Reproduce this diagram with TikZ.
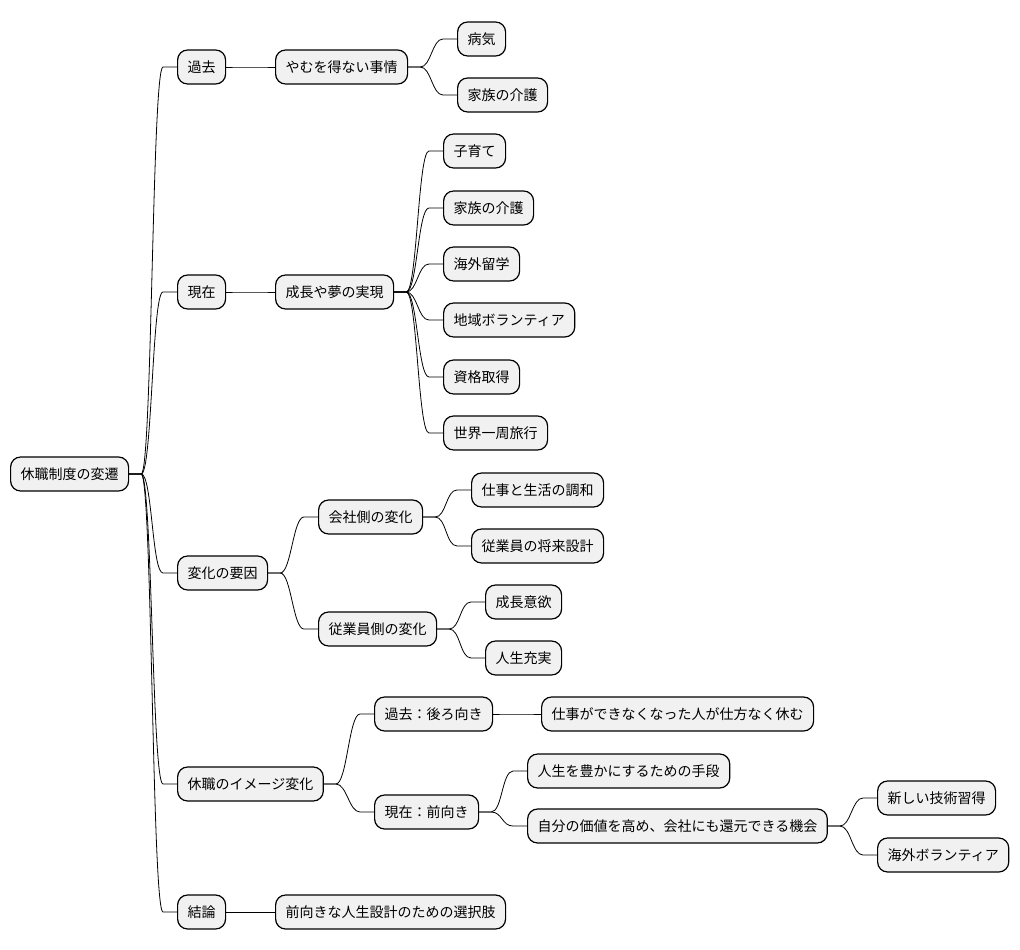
\documentclass[tikz,border=0pt]{standalone}
\usepackage{fontspec}
\setmainfont{Noto Sans CJK JP}
\usepackage{tikz}
\usetikzlibrary{calc}
\definecolor{topicfill}{HTML}{F1F1F1}
\tikzstyle{topic}=[draw=black, line width=0.9pt, fill=topicfill, rounded corners=7.5pt, anchor=west,
	minimum height=25.5pt, inner xsep=7.5pt, inner ysep=0pt, font=\fontsize{10.5pt}{12pt}\selectfont]
\tikzstyle{branch}=[line width=0.6pt]
% parent east -> child west
\newcommand{\link}[2]{%
	\draw[branch] (#1.east) -- ++(12,0) coordinate (s) .. controls ($(s)+(11,0)$) and ($(#2.west)+(-25,0)$) .. ($(#2.west)+(-14,0)$) -- (#2.west);}

\begin{document}
\begin{tikzpicture}[x=0.75pt,y=-0.75pt]
\useasboundingbox (0,0) rectangle (1020,949);
\node[topic] (r) at (10,474) {休職制度の変遷};
% level 1
\node[topic] (a) at (177,67) {過去};
\node[topic] (b) at (177,292) {現在};
\node[topic] (c) at (177,573) {変化の要因};
\node[topic] (d) at (177,784) {休職のイメージ変化};
\node[topic] (e) at (177,912) {結論};
% level 2
\node[topic] (a1) at (275,67) {やむを得ない事情};
\node[topic] (b1) at (275,292) {成長や夢の実現};
\node[topic] (c1) at (318,517) {会社側の変化};
\node[topic] (c2) at (318,629) {従業員側の変化};
\node[topic] (d1) at (374,714) {過去：後ろ向き};
\node[topic] (d2) at (374,812) {現在：前向き};
\node[topic] (e1) at (275,912) {前向きな人生設計のための選択肢};
% level 3
\node[topic] (a11) at (457,39) {病気};
\node[topic] (a12) at (457,95) {家族の介護};
\foreach \n/\t/\y in {1/子育て/151, 2/家族の介護/208, 3/海外留学/264, 4/地域ボランティア/320, 5/資格取得/377, 6/世界一周旅行/433} {
	\node[topic] (b1\n) at (443,\y) {\t};
}
\node[topic] (c11) at (471,490) {仕事と生活の調和};
\node[topic] (c12) at (471,546) {従業員の将来設計};
\node[topic] (c21) at (485,602) {成長意欲};
\node[topic] (c22) at (485,658) {人生充実};
\node[topic] (d11) at (541,714) {仕事ができなくなった人が仕方なく休む};
\node[topic] (d21) at (527,771) {人生を豊かにするための手段};
\node[topic] (d22) at (527,826) {自分の価値を高め、会社にも還元できる機会};
% level 4
\node[topic] (d221) at (877,798) {新しい技術習得};
\node[topic] (d222) at (877,855) {海外ボランティア};
% connectors
\foreach \c in {a,b,c,d,e} {\link{r}{\c}}
\link{a}{a1} \link{b}{b1} \link{c}{c1} \link{c}{c2}
\link{d}{d1} \link{d}{d2} \link{e}{e1}
\link{a1}{a11} \link{a1}{a12}
\foreach \n in {1,...,6} {\link{b1}{b1\n}}
\link{c1}{c11} \link{c1}{c12} \link{c2}{c21} \link{c2}{c22}
\link{d1}{d11} \link{d2}{d21} \link{d2}{d22}
\link{d22}{d221} \link{d22}{d222}
\end{tikzpicture}
\end{document}
